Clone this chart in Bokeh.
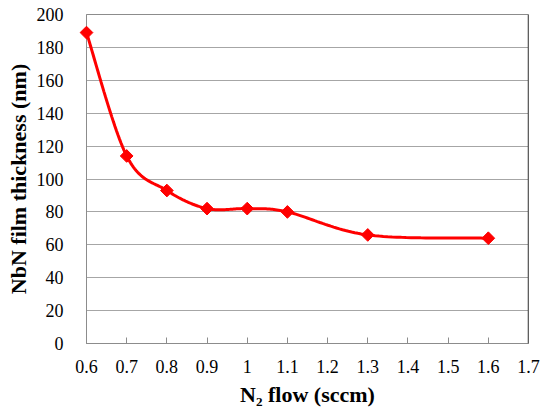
import numpy as np
from bokeh.plotting import figure
from bokeh.models import Range1d, FixedTicker, Span
from bokeh.embed import file_html
from bokeh.resources import INLINE

n2_flow = [0.6, 0.7, 0.8, 0.9, 1.0, 1.1, 1.3, 1.6]
thickness = [189, 114, 93, 82, 82, 80, 66, 64]
x_ticks = [0.6, 0.7, 0.8, 0.9, 1.0, 1.1, 1.2, 1.3, 1.4, 1.5, 1.6, 1.7]
x_tick_labels = ["0.6", "0.7", "0.8", "0.9", "1", "1.1", "1.2", "1.3", "1.4", "1.5", "1.6", "1.7"]
y_ticks = [0, 20, 40, 60, 80, 100, 120, 140, 160, 180, 200]

W, H = 545, 410
BL, BR, BT, BB = 86, 17, 14, 67
FW, FH = W - BL - BR, H - BT - BB
p = figure(width=W, height=H, output_backend="svg", toolbar_location=None,
           x_range=Range1d(0.6, 1.7), y_range=Range1d(0, 200),
           min_border_left=BL, min_border_right=BR, min_border_top=BT, min_border_bottom=BB)
p.background_fill_color = "white"
p.border_fill_color = "white"
p.outline_line_color = "#8c8c8c"
p.outline_line_width = 1

# smooth curve (Catmull-Rom style Bezier, computed in screen-scaled space)
sx = FW / 1.1
sy = FH / 200.0
P = np.array([[x * sx, y * sy] for x, y in zip(n2_flow, thickness)])
pts = []
n = len(P)
for i in range(n - 1):
    p0 = P[i - 1] if i > 0 else P[i]
    p1 = P[i]
    p2 = P[i + 1]
    p3 = P[i + 2] if i + 2 < n else P[i + 1]
    c1 = p1 + (p2 - p0) / 6.0
    c2 = p2 - (p3 - p1) / 6.0
    for t in np.linspace(0, 1, 30, endpoint=(i == n - 2)):
        b = ((1 - t) ** 3) * p1 + 3 * ((1 - t) ** 2) * t * c1 + 3 * (1 - t) * t * t * c2 + t ** 3 * p2
        pts.append(b)
pts = np.array(pts)
cx = pts[:, 0] / sx
cy = pts[:, 1] / sy

p.line(cx, cy, line_color="#ff0000", line_width=3, level="overlay")
p.scatter(n2_flow, thickness, marker="square", angle=np.pi / 4, size=9,
          fill_color="#ff0000", line_color="#ff0000", line_width=1, level="overlay")

p.add_layout(Span(location=1.7, dimension="height", line_color="#333333", line_width=1.5))

p.xaxis.ticker = FixedTicker(ticks=x_ticks)
p.xaxis.major_label_overrides = {t: l for t, l in zip(x_ticks, x_tick_labels)}
p.yaxis.ticker = FixedTicker(ticks=y_ticks)
p.xgrid.visible = False
p.ygrid.grid_line_color = "#a6a6a6"
p.ygrid.grid_line_width = 1

for ax in (p.xaxis, p.yaxis):
    ax.axis_line_color = "#8c8c8c"
    ax.major_label_text_font = "Liberation Serif"
    ax.major_label_text_font_size = "18px"
    ax.major_label_text_color = "#000000"
    ax.axis_label_text_font = "Liberation Serif"
    ax.axis_label_text_font_style = "bold"
    ax.axis_label_text_font_size = "22px"
    ax.axis_label_text_color = "#000000"
    ax.minor_tick_line_color = None

p.xaxis.major_tick_in = 6
p.xaxis.major_tick_out = 0
p.xaxis.major_tick_line_color = "#8c8c8c"
p.xaxis.major_label_standoff = 16
p.xaxis.axis_label = "N\u2082 flow (sccm)"
p.xaxis.axis_label_standoff = 6

p.yaxis.major_tick_line_color = None
p.yaxis.major_label_standoff = 17
p.yaxis.axis_label = "NbN film thickness (nm)"
p.yaxis.axis_label_standoff = 3

open("out.html", "w").write(file_html(p, INLINE))
